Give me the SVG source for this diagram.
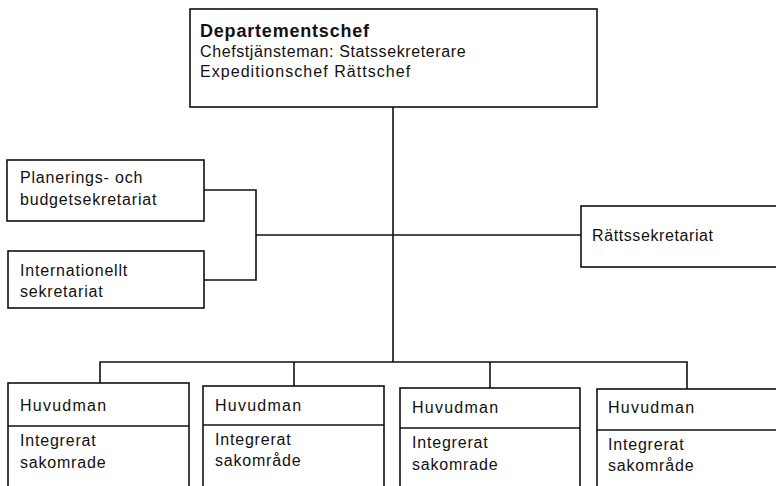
<svg xmlns="http://www.w3.org/2000/svg" width="776" height="486" viewBox="0 0 776 486">
<style>
.box{fill:#fff;stroke:#111;stroke-width:1.6}
.ln{fill:none;stroke:#111;stroke-width:1.6}
text{font-family:"Liberation Sans",Arial,sans-serif;font-size:16px;fill:#111;letter-spacing:0.8px}
.b{font-weight:bold;font-size:18px;letter-spacing:0.8px}
.h{letter-spacing:1.25px}
</style>
<rect width="776" height="486" fill="#fff"/>
<g id="connectors">
<path class="ln" d="M393,107 V362"/>
<path class="ln" d="M204,190 H256 V280 H204"/>
<path class="ln" d="M256,235 H581"/>
<path class="ln" d="M100,383 V362 H687 V389"/>
<path class="ln" d="M294,362 V386"/>
<path class="ln" d="M490,362 V388"/>
</g>
<g id="departementschef">
<rect class="box" x="190" y="9" width="407" height="98"/>
<text x="200" y="37" class="b">Departementschef</text>
<text x="200" y="57" style="letter-spacing:0.6px">Chefstjänsteman: Statssekreterare</text>
<text x="200" y="77" style="letter-spacing:1.05px">Expeditionschef Rättschef</text>
</g>
<g id="planering">
<rect class="box" x="7" y="160" width="197" height="61"/>
<text x="20" y="183">Planerings- och</text>
<text x="20" y="205">budgetsekretariat</text>
</g>
<g id="internationellt">
<rect class="box" x="8" y="251" width="196" height="57"/>
<text x="20" y="276">Internationellt</text>
<text x="20" y="297">sekretariat</text>
</g>
<g id="rattssekretariat">
<rect class="box" x="581" y="206" width="200" height="61"/>
<text x="592" y="241" style="letter-spacing:0.6px">Rättssekretariat</text>
</g>
<g id="huvudman1">
<rect class="box" x="8" y="383" width="181" height="110"/>
<path class="ln" d="M8,426 H189"/>
<text x="20" y="411" class="h">Huvudman</text>
<text x="20" y="446">Integrerat</text>
<text x="20" y="468">sakomrade</text>
</g>
<g id="huvudman2">
<rect class="box" x="203" y="386" width="181" height="110"/>
<path class="ln" d="M203,425 H384"/>
<text x="215" y="411" class="h">Huvudman</text>
<text x="215" y="445">Integrerat</text>
<text x="215" y="466">sakområde</text>
</g>
<g id="huvudman3">
<rect class="box" x="400" y="388" width="180" height="110"/>
<path class="ln" d="M400,428 H580"/>
<text x="412" y="413" class="h">Huvudman</text>
<text x="412" y="448">Integrerat</text>
<text x="412" y="470">sakomrade</text>
</g>
<g id="huvudman4">
<rect class="box" x="597" y="389" width="190" height="110"/>
<path class="ln" d="M597,430 H787"/>
<text x="608" y="413" class="h">Huvudman</text>
<text x="608" y="450">Integrerat</text>
<text x="608" y="471">sakområde</text>
</g>
</svg>
